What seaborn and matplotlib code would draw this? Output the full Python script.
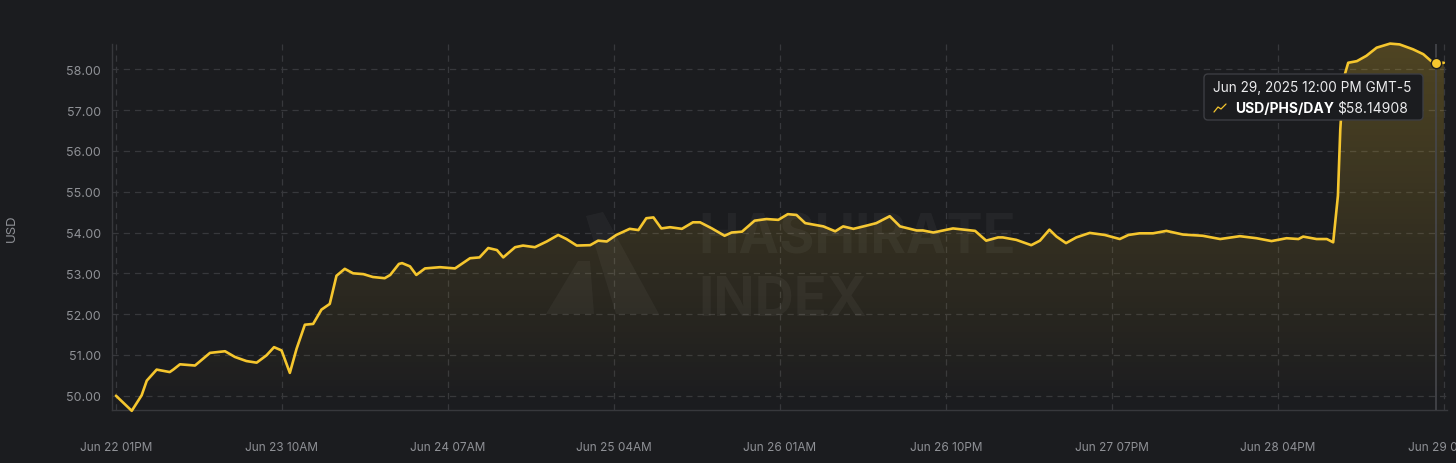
import numpy as np
import pandas as pd
import matplotlib
matplotlib.use("Agg")
import matplotlib.pyplot as plt
import matplotlib.dates as mdates
from matplotlib.colors import LinearSegmentedColormap
from matplotlib.patches import FancyBboxPatch, Polygon
from matplotlib.lines import Line2D
import seaborn as sns

# hours since Jun 22 2025 01PM, and price
hours = [0, 2, 3.25, 3.9, 5.15, 6.8, 7.25, 8.1, 10, 11.9,
         13.8, 15.05, 16.5, 17.8, 19.05, 20, 20.95, 22, 22.85, 23.9,
         24.95, 26, 27.05, 27.9, 28.95, 30, 31.3, 32.5, 34, 34.7,
         35.8, 36.2, 37.2, 38, 39.1, 41, 42.9, 44.8, 46, 47.1,
         48.2, 49, 50.5, 51.5, 53, 54.5, 55.95, 57, 58.3, 60,
         61, 62.1, 63.3, 65, 66.1, 67.1, 68, 69, 70.1, 71.6,
         73, 73.9, 75.4, 77, 77.9, 79.2, 80.8, 82.3, 83.8, 85,
         86.1, 87.2, 89.5, 91, 92, 93.3, 95, 96.2, 97.9, 99.2,
         101.3, 102.1, 103.4, 105.9, 108.7, 110.1, 111.6, 112.2, 113.9, 115.8,
         116.9, 118.1, 119, 120.2, 121.5, 123.2, 125.1, 127, 128.1, 129.5,
         131.2, 132.9, 135, 137.5, 139.7, 142.2, 144.3, 146.2, 148.1, 149.6,
         150.2, 151.9, 153.2, 154, 154.6, 154.9, 155.3, 155.9, 157, 158.2,
         159.5, 161.2, 162.4, 164.1, 165.4, 166.4, 167, 168]
usd = [50.00, 49.63, 50.01, 50.37, 50.64, 50.58, 50.64, 50.77, 50.74, 51.05,
       51.09, 50.95, 50.85, 50.81, 50.99, 51.19, 51.11, 50.56, 51.15, 51.74,
       51.76, 52.11, 52.25, 52.94, 53.11, 53.00, 52.98, 52.91, 52.88, 52.96,
       53.23, 53.25, 53.17, 52.96, 53.12, 53.15, 53.12, 53.37, 53.39, 53.62,
       53.57, 53.39, 53.64, 53.68, 53.64, 53.78, 53.94, 53.84, 53.68, 53.69,
       53.80, 53.78, 53.94, 54.09, 54.06, 54.35, 54.37, 54.10, 54.13, 54.09,
       54.25, 54.25, 54.10, 53.92, 54.00, 54.02, 54.29, 54.33, 54.31, 54.45,
       54.43, 54.23, 54.15, 54.03, 54.15, 54.09, 54.17, 54.23, 54.40, 54.15,
       54.05, 54.05, 54.00, 54.10, 54.04, 53.80, 53.88, 53.88, 53.82, 53.69,
       53.80, 54.07, 53.90, 53.74, 53.88, 53.99, 53.94, 53.84, 53.94, 53.98,
       53.98, 54.04, 53.95, 53.92, 53.84, 53.91, 53.86, 53.79, 53.86, 53.84,
       53.90, 53.84, 53.84, 53.76, 54.90, 56.53, 57.76, 58.16, 58.20, 58.33,
       58.53, 58.63, 58.61, 58.49, 58.37, 58.20, 58.14908, 58.16]

y_ticks = [50, 51, 52, 53, 54, 55, 56, 57, 58]
tick_hours = [0, 21, 42, 63, 84, 105, 126, 147, 168]
hover_hour = 167
hover_value = 58.14908

BG = "#1b1c1f"
GRID = "#37383c"
TXT = "#8f9196"
YEL = "#f5c62e"

sns.set_theme(style="dark", rc={
    "figure.facecolor": BG, "axes.facecolor": BG,
    "axes.edgecolor": GRID, "grid.color": GRID,
    "text.color": TXT, "xtick.color": TXT, "ytick.color": TXT,
    "axes.labelcolor": TXT,
})
plt.rcParams["font.family"] = ["Inter", "DejaVu Sans"]

start = pd.Timestamp("2025-06-22 13:00")
df = pd.DataFrame({"time": start + pd.to_timedelta(hours, unit="h"), "usd": usd})

W, H = 1456, 464
fig = plt.figure(figsize=(W / 100, H / 100), dpi=100)
ax = fig.add_axes([112 / W, 1 - 411 / H, (1447 - 112) / W, (411 - 45) / H])

y0, y1 = 49.65, 58.62
x0 = mdates.date2num(start - pd.Timedelta(hours=0.5))
x1 = mdates.date2num(start + pd.Timedelta(hours=168.4))

# gradient fill under the line
poly = ax.fill_between(df["time"], df["usd"], y0, color="none", lw=0)
cmap = LinearSegmentedColormap.from_list(
    "fade", [(0.96, 0.78, 0.18, 0.0), (0.96, 0.78, 0.18, 0.24)])
grad = np.linspace(0, 1, 256).reshape(-1, 1)
im = ax.imshow(grad, extent=[x0, x1, y0, y1], origin="lower", aspect="auto",
               cmap=cmap, zorder=1)
im.set_clip_path(poly.get_paths()[0], transform=ax.transData)

sns.lineplot(data=df, x="time", y="usd", ax=ax, color=YEL, lw=1.9,
             zorder=4, clip_on=False)
ax.lines[-1].set_solid_joinstyle("round")

hover_t = start + pd.Timedelta(hours=hover_hour)
ax.axvline(hover_t, color="#46474c", lw=1.2, zorder=3)
ax.scatter([hover_t], [hover_value], s=55, color=YEL, edgecolor=BG,
           linewidth=1, zorder=6, clip_on=False)

ax.set_xlim(x0, x1)
ax.set_ylim(y0, y1)
ax.set_yticks(y_ticks)
ax.set_yticklabels([f"{v:.2f}" for v in y_ticks])
ax.set_xticks([start + pd.Timedelta(hours=h) for h in tick_hours])
ax.xaxis.set_major_formatter(mdates.DateFormatter("%b %d %I%p"))
ax.grid(True, linestyle=(0, (5, 4)), lw=0.9, color=GRID)
ax.tick_params(axis="x", length=11, width=0.9, color=GRID, pad=11, labelsize=8.5)
ax.tick_params(axis="y", length=5, width=0.9, color=GRID, pad=3, labelsize=9)
for s in ["top", "right"]:
    ax.spines[s].set_visible(False)
for s in ["left", "bottom"]:
    ax.spines[s].set_color(GRID)
    ax.spines[s].set_linewidth(1)
ax.set_xlabel("")
ax.set_ylabel("USD", fontsize=9.5)
ax.yaxis.set_label_coords(-0.0705, 0.5)


def fx(px):
    return px / W


def fy(py):
    return 1 - py / H


# watermark
wm = dict(color="white", alpha=0.045, fontsize=39, fontweight="bold",
          ha="left", va="baseline", zorder=0)
fig.text(fx(698), fy(254), "HASHIRATE", **wm)
fig.text(fx(698), fy(316), "INDEX", **wm)
fig.add_artist(Polygon([(fx(586), fy(217)), (fx(603), fy(213)),
                        (fx(659), fy(315)), (fx(616), fy(315))],
                       closed=True, color="white", alpha=0.04, lw=0))
fig.add_artist(Polygon([(fx(546), fy(315)), (fx(578), fy(262)),
                        (fx(590), fy(262)), (fx(594), fy(315))],
                       closed=True, color="white", alpha=0.04, lw=0))

# tooltip
box = FancyBboxPatch((fx(1204), fy(121)), fx(1423) - fx(1204), fy(75) - fy(121),
                     boxstyle=f"round,pad=0,rounding_size={4 / W}",
                     mutation_aspect=W / H, facecolor=BG, edgecolor="#3c3d42",
                     lw=1, zorder=10)
fig.add_artist(box)
fig.text(fx(1213), fy(88), "Jun 29, 2025 12:00 PM GMT-5", color="#ececee",
         fontsize=9.8, va="center", ha="left", zorder=11)
fig.add_artist(Line2D([fx(1214), fx(1218), fx(1221), fx(1226)],
                      [fy(113), fy(108), fy(110), fy(105)],
                      color=YEL, lw=0.9, zorder=11))
fig.text(fx(1235), fy(109), "USD/PHS/DAY", color="#ffffff", fontsize=10,
         fontweight="bold", va="center", ha="left", zorder=11)
fig.text(fx(1337), fy(109), f"${hover_value:.5f}", color="#ececee",
         fontsize=10, va="center", ha="left", zorder=11)

fig.savefig("out.png", dpi=100, facecolor=BG)
